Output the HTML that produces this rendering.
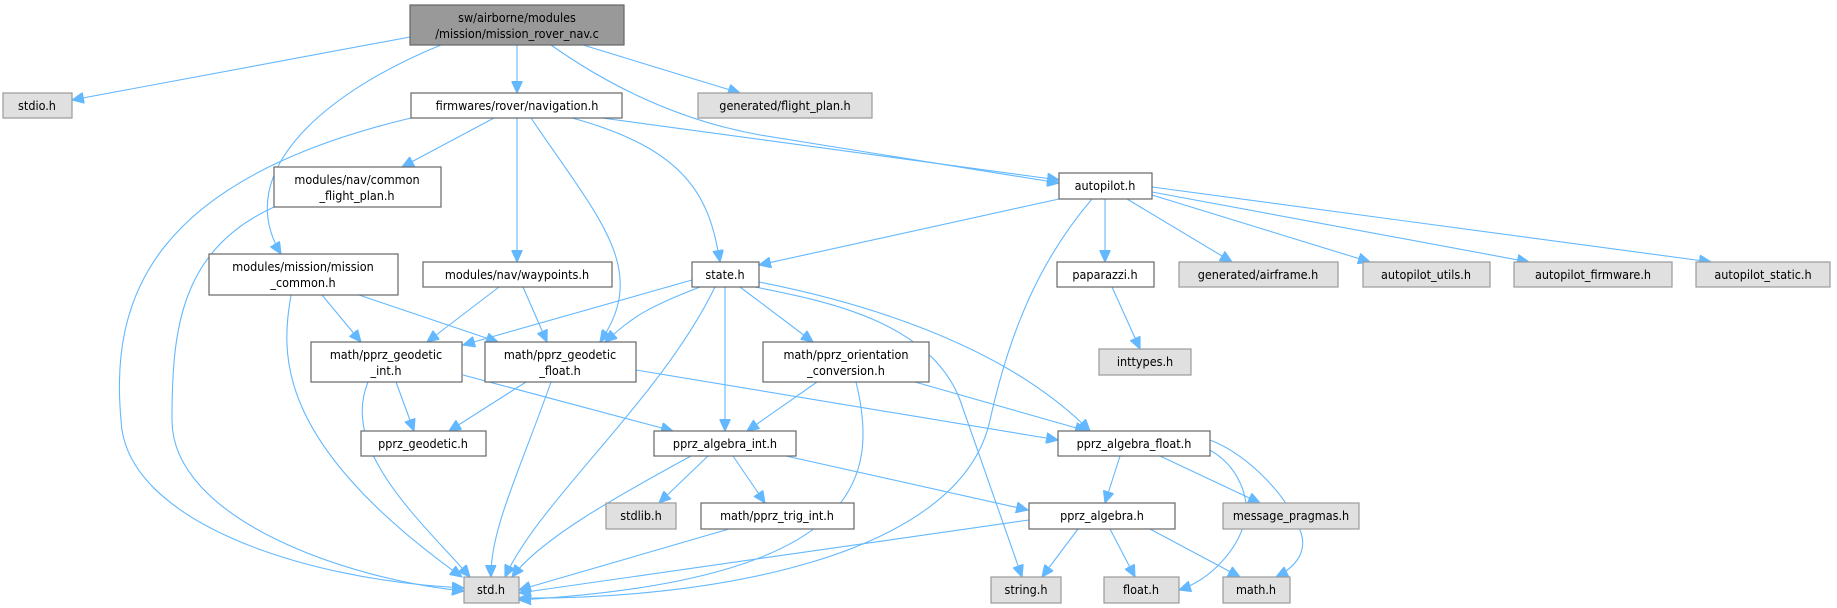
<!DOCTYPE html>
<html><head><meta charset="utf-8"><style>
html,body{margin:0;padding:0;background:#fff;}
svg{display:block;}
text{font-family:"DejaVu Sans Condensed","DejaVu Sans","Liberation Sans",sans-serif;font-size:12.5px;fill:#000;text-anchor:middle;}
.n rect{fill:#fff;stroke:#666;stroke-width:1.2;}
.g rect{fill:#e0e0e0;stroke:#999;stroke-width:1.2;}
.r rect{fill:#999;stroke:#666;stroke-width:1.2;}
path{fill:none;stroke:#63b8ff;stroke-width:1.1;marker-end:url(#a);}
</style></head><body>
<svg width="1837" height="608" viewBox="0 0 1837 608" xmlns="http://www.w3.org/2000/svg">
<defs><marker id="a" markerUnits="userSpaceOnUse" markerWidth="13" markerHeight="11" refX="12" refY="5.5" orient="auto"><path d="M0,0 L12,5.5 L0,11 Z" style="fill:#63b8ff;stroke:#63b8ff;marker-end:none"/></marker></defs>

<!-- edges -->
<path d="M410,37 L72,100"/>
<path d="M517,45 L517,93"/>
<path d="M583,45 L740,93"/>
<path d="M441,45 C330,90 230,170 281,254"/>
<path d="M551,45 Q650,115 760,135 L1059,183"/>
<path d="M602,118 L1059,180"/>
<path d="M494,118 L402,167"/>
<path d="M517,118 L517,262"/>
<path d="M531,118 C600,220 650,270 600,342"/>
<path d="M572,118 C690,150 710,200 720,262"/>
<path d="M411,118 C150,180 110,300 121,420 C125,520 300,580 464,588"/>
<path d="M274,207 C180,250 172,330 172,420 C172,520 350,580 464,591"/>
<path d="M291,295 C282,350 270,440 462,577"/>
<path d="M322,295 L361,342"/>
<path d="M359,295 L498,342"/>
<path d="M499,287 L427,342"/>
<path d="M523,287 L547,342"/>
<path d="M692,280 L463,345"/>
<path d="M700,287 C640,310 630,320 605,342"/>
<path d="M715,287 C660,400 540,500 505,577"/>
<path d="M725,287 L725,431"/>
<path d="M740,287 L813,342"/>
<path d="M755,287 C820,300 930,320 960,400 L1022,577"/>
<path d="M759,282 C850,300 1000,340 1090,431"/>
<path d="M1059,199 L759,265"/>
<path d="M1092,199 C1040,260 1010,330 990,420 C960,560 700,600 519,598"/>
<path d="M1105,199 L1105,262"/>
<path d="M1127,199 L1232,262"/>
<path d="M1152,195 L1370,262"/>
<path d="M1152,192 L1529,262"/>
<path d="M1152,187 L1711,262"/>
<path d="M1112,287 L1140,349"/>
<path d="M396,382 L414,431"/>
<path d="M463,375 L673,431"/>
<path d="M368,382 C340,450 420,520 470,577"/>
<path d="M526,382 L449,431"/>
<path d="M551,382 C520,470 490,530 491,577"/>
<path d="M636,370 L1058,440"/>
<path d="M817,382 L747,431"/>
<path d="M915,382 L1087,431"/>
<path d="M856,382 C880,480 860,580 519,600"/>
<path d="M691,456 C610,500 540,540 512,577"/>
<path d="M708,456 L659,503"/>
<path d="M733,456 L765,503"/>
<path d="M786,456 L1028,510"/>
<path d="M729,529 L519,590"/>
<path d="M1029,520 L519,593"/>
<path d="M1078,529 L1042,577"/>
<path d="M1110,529 L1135,577"/>
<path d="M1150,529 L1240,577"/>
<path d="M1120,456 L1105,503"/>
<path d="M1160,456 L1260,503"/>
<path d="M1206,448 C1240,465 1250,500 1245,520 C1238,550 1210,580 1179,590"/>
<path d="M1210,440 C1250,455 1290,500 1300,530 C1310,555 1290,570 1276,577"/>

<!-- nodes -->
<g class="r"><rect x="410" y="5" width="214" height="40"/><text x="517" y="22">sw/airborne/modules</text><text x="517" y="38">/mission/mission_rover_nav.c</text></g>
<g class="g"><rect x="3" y="93" width="69" height="25"/><text x="37" y="110">stdio.h</text></g>
<g class="n"><rect x="411" y="93" width="211" height="25"/><text x="517" y="110">firmwares/rover/navigation.h</text></g>
<g class="g"><rect x="698" y="93" width="174" height="25"/><text x="785" y="110">generated/flight_plan.h</text></g>
<g class="n"><rect x="274" y="167" width="167" height="40"/><text x="357" y="184">modules/nav/common</text><text x="357" y="200">_flight_plan.h</text></g>
<g class="n"><rect x="1059" y="173" width="93" height="26"/><text x="1105" y="190">autopilot.h</text></g>
<g class="n"><rect x="209" y="254" width="189" height="41"/><text x="303" y="271">modules/mission/mission</text><text x="303" y="287">_common.h</text></g>
<g class="n"><rect x="423" y="262" width="189" height="25"/><text x="517" y="279">modules/nav/waypoints.h</text></g>
<g class="n"><rect x="692" y="262" width="67" height="25"/><text x="725" y="279">state.h</text></g>
<g class="n"><rect x="1057" y="262" width="97" height="25"/><text x="1105" y="279">paparazzi.h</text></g>
<g class="g"><rect x="1179" y="262" width="159" height="25"/><text x="1258" y="279">generated/airframe.h</text></g>
<g class="g"><rect x="1363" y="262" width="127" height="25"/><text x="1426" y="279">autopilot_utils.h</text></g>
<g class="g"><rect x="1514" y="262" width="158" height="25"/><text x="1593" y="279">autopilot_firmware.h</text></g>
<g class="g"><rect x="1696" y="262" width="134" height="25"/><text x="1763" y="279">autopilot_static.h</text></g>
<g class="n"><rect x="311" y="342" width="151" height="40"/><text x="386" y="359">math/pprz_geodetic</text><text x="386" y="375">_int.h</text></g>
<g class="n"><rect x="485" y="342" width="151" height="40"/><text x="560" y="359">math/pprz_geodetic</text><text x="560" y="375">_float.h</text></g>
<g class="n"><rect x="763" y="342" width="166" height="40"/><text x="846" y="359">math/pprz_orientation</text><text x="846" y="375">_conversion.h</text></g>
<g class="g"><rect x="1099" y="349" width="92" height="26"/><text x="1145" y="366">inttypes.h</text></g>
<g class="n"><rect x="361" y="431" width="125" height="25"/><text x="423" y="448">pprz_geodetic.h</text></g>
<g class="n"><rect x="654" y="431" width="142" height="25"/><text x="725" y="448">pprz_algebra_int.h</text></g>
<g class="n"><rect x="1058" y="431" width="152" height="25"/><text x="1134" y="448">pprz_algebra_float.h</text></g>
<g class="g"><rect x="606" y="503" width="70" height="26"/><text x="641" y="520">stdlib.h</text></g>
<g class="n"><rect x="701" y="503" width="153" height="26"/><text x="777" y="520">math/pprz_trig_int.h</text></g>
<g class="n"><rect x="1029" y="503" width="146" height="26"/><text x="1102" y="520">pprz_algebra.h</text></g>
<g class="g"><rect x="1223" y="503" width="136" height="26"/><text x="1291" y="520">message_pragmas.h</text></g>
<g class="g"><rect x="464" y="577" width="55" height="26"/><text x="491" y="594">std.h</text></g>
<g class="g"><rect x="991" y="577" width="70" height="26"/><text x="1026" y="594">string.h</text></g>
<g class="g"><rect x="1104" y="577" width="75" height="26"/><text x="1141" y="594">float.h</text></g>
<g class="g"><rect x="1223" y="577" width="67" height="26"/><text x="1256" y="594">math.h</text></g>
</svg>
</body></html>
